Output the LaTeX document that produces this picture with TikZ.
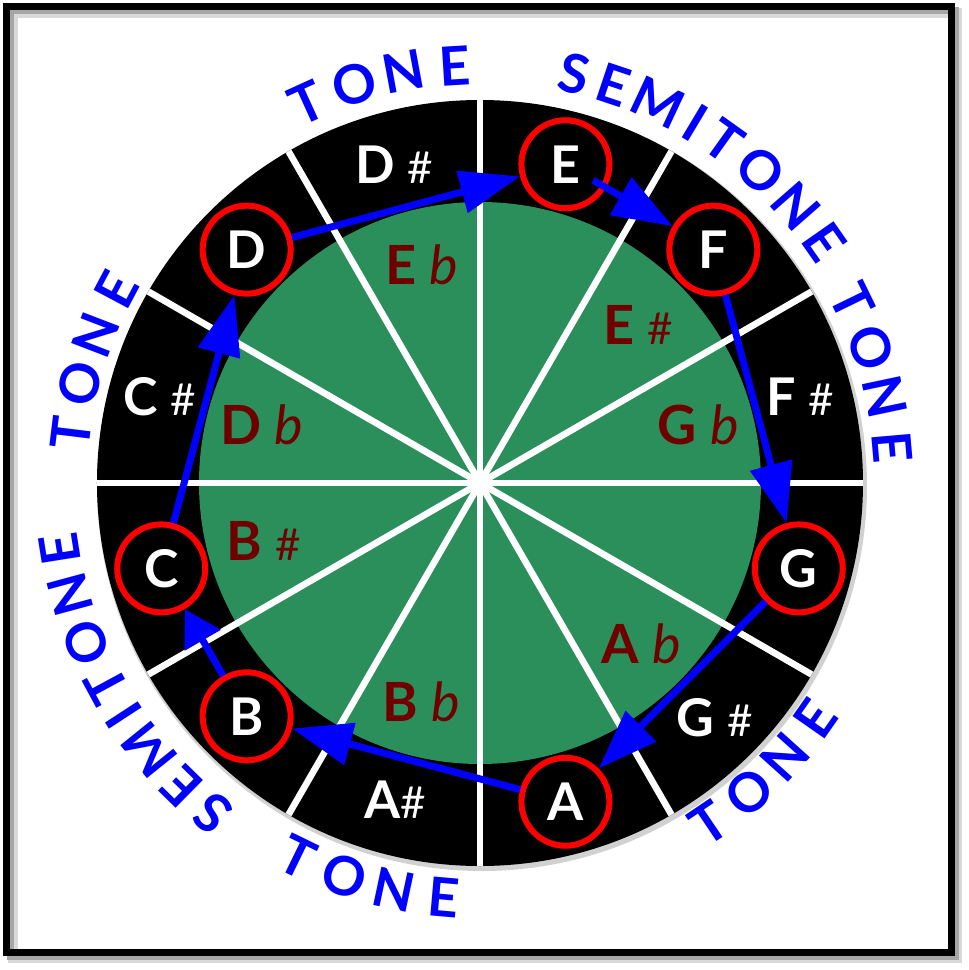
\documentclass[tikz,border=0pt]{standalone}
\usepackage{fontspec}
\setmainfont{Lato}
\usepackage{tikz}
\usetikzlibrary{arrows.meta,positioning,calc}
\definecolor{wheelgreen}{RGB}{43,143,91}
\definecolor{flatred}{RGB}{112,0,0}
\newcommand{\sharpsign}{{\mdseries\fontsize{22}{22}\selectfont\#}}
\newcommand{\flatsign}{{\mdseries\itshape b}}

\begin{document}
\begin{tikzpicture}[x=0.5pt, y=0.5pt,
    notebox/.style={circle, draw=red, line width=3pt, minimum size=44pt, inner sep=0pt,
      text=white, font=\fontsize{26}{26}\selectfont\bfseries},
    sharplbl/.style={text=white, font=\fontsize{26}{26}\selectfont\bfseries},
    flatlbl/.style={text=flatred, font=\fontsize{27}{27}\selectfont\bfseries},
    arclbl/.style={text=blue, inner sep=0pt, font=\fontsize{27}{27}\selectfont\bfseries},
    arr/.style={blue, line width=3.5pt, -{Triangle[length=30pt,width=21pt]}}]

    \useasboundingbox (-480,-487) rectangle (489,483);

    % frame
    \draw[black!15, line width=5pt] (-467,470) rectangle (477,-475);
    \draw[black!35, line width=3.5pt] (-469,472) rectangle (475,-473);
    \draw[black, line width=3.5pt] (-473,476) rectangle (471,-469);

    % wheel
    \fill[black!30, opacity=0.6] (2,-3) circle (385);
    \fill[black] (0,0) circle (383);
    \fill[wheelgreen] (0,0) circle (281);
    \foreach \a in {0,30,...,330}
        \draw[white, line width=3.3pt] (0,0) -- (\a:383);
    \fill[white] (0,0) circle (9);

    % notes
    \node[notebox] (nE) at (75:330) {E};
    \node[notebox] (nF) at (45:330) {F};
    \node[notebox] (nG) at (-15:330) {G};
    \node[notebox] (nA) at (-75:330) {A};
    \node[notebox] (nB) at (-135:330) {B};
    \node[notebox] (nC) at (-165:330) {C};
    \node[notebox] (nD) at (135:330) {D};

    \node[sharplbl] (sDs) at (105:330) {D \sharpsign};
    \node[sharplbl] (sFs) at (15:332) {F \sharpsign};
    \node[sharplbl] (sGs) at (-45:332) {G \sharpsign};
    \node[sharplbl] (sAs) at (-105:328) {A\sharpsign};
    \node[sharplbl] (sCs) at (165:332) {C \sharpsign};

    \node[flatlbl] (fEb) at (105:226) {E \flatsign};
    \node[flatlbl] (fEs) at (45:224) {E \sharpsign};
    \node[flatlbl] (fGb) at (15:226) {G \flatsign};
    \node[flatlbl] (fAb) at (-45:228) {A \flatsign};
    \node[flatlbl] (fBb) at (-105:226) {B \flatsign};
    \node[flatlbl] (fBs) at (-165:224) {B \sharpsign};
    \node[flatlbl] (fDb) at (165:226) {D \flatsign};

    % steps
    \draw[arr] (nD) -- (nE);
    \draw[arr, shorten <=16pt] (nE.center) -- (nF);
    \draw[arr] (nF) -- (nG);
    \draw[arr] (nG) -- (nA);
    \draw[arr] (nA) -- (nB);
    \draw[arr, -{Triangle[length=18pt,width=20pt]}] (nB) -- (nC);
    \draw[arr] (nC) -- (nD);

    % step names
    \foreach \c [count=\i, evaluate=\i as \a using 104+17.5-7*\i] in {T,O,N,E}
        \node[arclbl, rotate=\a-90] (tDE\i) at (\a:418) {\c};
    \foreach \c/\o [count=\i, evaluate=\o as \a using 77-\o] in {S/0,E/5.5,M/12.1,I/17.9,T/22.6,O/28.9,N/35.8,E/42}
        \node[arclbl, rotate=\a-90] (tEF\i) at (\a:420) {\c};
    \foreach \c [count=\i, evaluate=\i as \a using 15.5+17.5-7*\i] in {T,O,N,E}
        \node[arclbl, rotate=\a-90] (tFG\i) at (\a:414) {\c};
    \foreach \c [count=\i, evaluate=\i as \a using -45.5-17.5+7*\i] in {T,O,N,E}
        \node[arclbl, rotate=\a+90] (tGA\i) at (\a:410) {\c};
    \foreach \c [count=\i, evaluate=\i as \a using -105.5-17.5+7*\i] in {T,O,N,E}
        \node[arclbl, rotate=\a+90] (tAB\i) at (\a:416) {\c};
    \foreach \c/\o [count=\i, evaluate=\o as \a using -129-\o] in {S/0,E/5.5,M/12.1,I/17.9,T/22.6,O/28.9,N/35.8,E/42}
        \node[arclbl, rotate=\a-90] (tBC\i) at (\a:425) {\c};
    \foreach \c [count=\i, evaluate=\i as \a using 162.5+17.5-7*\i] in {T,O,N,E}
        \node[arclbl, rotate=\a-90] (tCD\i) at (\a:412) {\c};
\end{tikzpicture}
\end{document}
